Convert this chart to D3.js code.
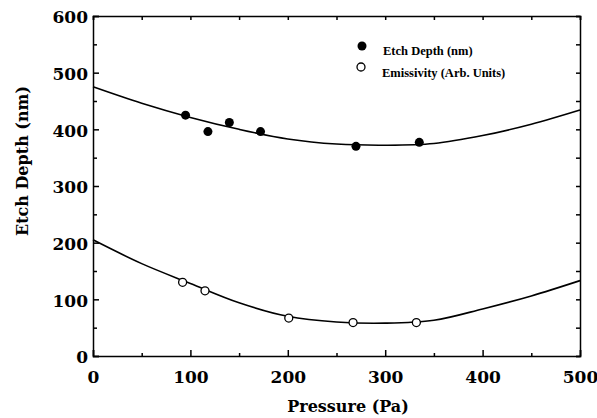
<!DOCTYPE html>
<html lang="en">
<head>
  <meta charset="UTF-8">
  <title>Etch Depth vs Pressure</title>
  <script src="https://cdn.jsdelivr.net/npm/d3@7"></script>
  <style>
    body { margin: 0; background: #fff; }
    svg text { font-family: "DejaVu Serif", serif; font-weight: bold; fill: #000; }
    .tick line, .domain { stroke: #000; stroke-width: 1.5; }
  </style>
</head>
<body>
  <script>
    // measured points
    var etchP = [95, 118, 140, 172, 270, 335];
    var etchV = [425, 396, 412, 396, 370, 377];
    var emisP = [92, 115, 201, 267, 332];
    var emisV = [130, 115, 67, 59, 59];

    // smooth fit curves
    var fitP = [0, 50, 100, 150, 200, 250, 300, 350, 400, 450, 500];
    var etchFit = [475, 446, 421, 400, 383, 374, 372, 375, 389, 409, 434];
    var emisFit = [205, 163, 128, 94, 70, 60, 58, 63, 83, 106, 133];

    var xTicks = [0, 100, 200, 300, 400, 500];
    var yTicks = [0, 100, 200, 300, 400, 500, 600];

    var width = 597, height = 418;
    var margin = {top: 16, right: 17, bottom: 62, left: 93};

    var svg = d3.select("body").append("svg")
      .attr("width", width).attr("height", height);

    var x = d3.scaleLinear().domain([0, 500]).range([margin.left, width - margin.right]);
    var y = d3.scaleLinear().domain([0, 600]).range([height - margin.bottom, margin.top]);

    var minorX = d3.range(50, 500, 100), minorY = d3.range(50, 600, 100);

    // bottom axis with labels
    svg.append("g")
      .attr("transform", "translate(0," + y(0) + ")")
      .call(d3.axisBottom(x).tickValues(xTicks).tickSize(-6).tickPadding(15))
      .call(function(g) { g.selectAll("text").style("font-size", "17px"); });
    svg.append("g")
      .attr("transform", "translate(0," + y(0) + ")")
      .call(d3.axisBottom(x).tickValues(minorX).tickSize(-3).tickFormat(""))
      .call(function(g) { g.select(".domain").remove(); });

    // left axis with labels
    svg.append("g")
      .attr("transform", "translate(" + x(0) + ",0)")
      .call(d3.axisLeft(y).tickValues(yTicks).tickSize(-6).tickPadding(5))
      .call(function(g) { g.selectAll("text").style("font-size", "17px").attr("dy", "0.75em").attr("y", -6); });
    svg.append("g")
      .attr("transform", "translate(" + x(0) + ",0)")
      .call(d3.axisLeft(y).tickValues(minorY).tickSize(-4).tickFormat(""))
      .call(function(g) { g.select(".domain").remove(); });

    // top and right frame, ticks only
    svg.append("g")
      .attr("transform", "translate(0," + y(600) + ")")
      .call(d3.axisTop(x).tickValues(xTicks.concat(minorX)).tickSize(-4).tickFormat(""));
    svg.append("g")
      .attr("transform", "translate(" + x(500) + ",0)")
      .call(d3.axisRight(y).tickValues(yTicks.concat(minorY)).tickSize(-4).tickFormat(""));

    svg.selectAll(".domain").attr("stroke-width", 1.5);

    // fit curves
    var line = d3.line()
      .x(function(d) { return x(d[0]); })
      .y(function(d) { return y(d[1]); })
      .curve(d3.curveCatmullRom.alpha(0.5));

    [etchFit, emisFit].forEach(function(vals) {
      svg.append("path")
        .datum(fitP.map(function(p, i) { return [p, vals[i]]; }))
        .attr("fill", "none")
        .attr("stroke", "#000")
        .attr("stroke-width", 1.6)
        .attr("d", line);
    });

    // points
    svg.selectAll(".etch").data(etchP).enter().append("circle")
      .attr("class", "etch")
      .attr("cx", function(d) { return x(d); })
      .attr("cy", function(d, i) { return y(etchV[i]); })
      .attr("r", 4.5)
      .attr("fill", "#000");

    svg.selectAll(".emis").data(emisP).enter().append("circle")
      .attr("class", "emis")
      .attr("cx", function(d) { return x(d); })
      .attr("cy", function(d, i) { return y(emisV[i]); })
      .attr("r", 4)
      .attr("fill", "#fff")
      .attr("stroke", "#000")
      .attr("stroke-width", 1.3);

    // legend
    var legend = svg.append("g");
    legend.append("circle").attr("cx", 362).attr("cy", 46).attr("r", 4.5).attr("fill", "#000");
    legend.append("circle").attr("cx", 361).attr("cy", 67).attr("r", 4)
      .attr("fill", "#fff").attr("stroke", "#000").attr("stroke-width", 1.3);
    legend.append("text").attr("x", 383).attr("y", 55)
      .style("font-family", "'Liberation Serif', serif").style("font-size", "12.5px")
      .text("Etch Depth (nm)");
    legend.append("text").attr("x", 382).attr("y", 77)
      .style("font-family", "'Liberation Serif', serif").style("font-size", "12.5px")
      .text("Emissivity (Arb. Units)");

    // axis titles
    svg.append("text")
      .attr("x", 348).attr("y", 412)
      .attr("text-anchor", "middle")
      .style("font-size", "16px")
      .text("Pressure (Pa)");

    svg.append("text")
      .attr("transform", "translate(28,161) rotate(-90)")
      .attr("text-anchor", "middle")
      .style("font-size", "16px")
      .text("Etch Depth (nm)");
  </script>
</body>
</html>
